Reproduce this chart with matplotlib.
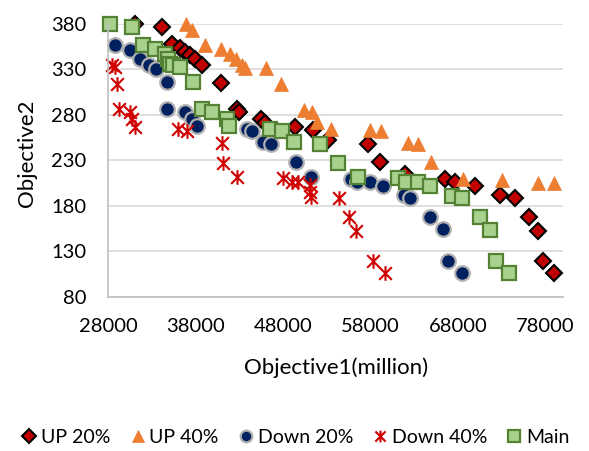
import numpy as np
import matplotlib
matplotlib.use("Agg")
import matplotlib.pyplot as plt
from matplotlib.path import Path

plt.rcParams['font.family'] = ['Lato', 'DejaVu Sans']

# ── data ─────────────────────────────────────────────────────────────────────
up20_x = [31030, 34080, 35220, 36170, 36740, 37320, 37890, 38650, 40820, 42650,
          42950, 45430, 45890, 49320, 51410, 53120, 57690, 59030, 61890, 66460,
          67600, 69890, 72740, 74460, 76090, 77120, 77690, 79030]
up20_y = [380, 377, 358, 354, 349, 346, 342, 335, 315, 287,
          283, 276, 271, 267, 263, 252, 248, 228, 215, 210,
          206, 202, 192, 188.5, 168, 153, 119, 106]

up40_x = [36860, 37510, 39030, 40820, 41890, 42570, 43220, 43600, 46000, 47720,
          50340, 51340, 51800, 53490, 57970, 59220, 62260, 63410, 64940, 68550,
          73050, 77120, 78920]
up40_y = [380, 373, 357, 352, 347, 342, 335, 332, 332, 314,
          285.5, 283, 272, 265, 263.5, 262, 249, 248, 228, 210,
          209, 205.6, 205.6]

down20_x = [28740, 30460, 31600, 32630, 33430, 34650, 34650, 36740, 37540, 38110,
            43800, 44400, 45690, 46650, 49510, 51220, 55800, 56400, 57890, 59410,
            61770, 62460, 64740, 66260, 66840, 68480]
down20_y = [357, 351, 342, 335, 331, 316, 287, 283, 276, 268,
            265, 262, 250, 248, 228, 212, 210, 206, 206.7, 202.5,
            192, 188.5, 168, 155, 119, 106]

down40_x = [28370, 28800, 28970, 29200, 30460, 30650, 31030, 36000, 36970, 40940,
            41050, 42650, 47980, 48940, 49690, 51030, 51030, 51220, 54340, 55520,
            56370, 58260, 59600]
down40_y = [335, 333, 314.6, 287, 283, 275.6, 267, 265, 262, 249,
            227, 211.5, 210.4, 206.7, 206.7, 203, 195.7, 189.6, 189.3, 168,
            153, 119, 106]

main_x = [28170, 30650, 31980, 33310, 34460, 34830, 35030, 35410, 36170, 37690,
          38690, 39790, 41510, 41770, 46460, 47800, 49240, 52170, 54260, 56550,
          61120, 62000, 63410, 64740, 67340, 68480, 70460, 71600, 72290, 73810]
main_y = [380, 377, 357, 353, 347, 342, 336, 335, 333, 316,
          287, 283, 276, 268, 265, 262, 250, 248.5, 227.6, 211.5,
          210.4, 206.7, 206.7, 202, 191, 188.5, 168, 153.6, 119, 106]

x_ticks = [28000, 38000, 48000, 58000, 68000, 78000]
y_ticks = [80, 130, 180, 230, 280, 330, 380]

# X with a vertical bar, like a spreadsheet "star" marker
star = Path([(-1, -1), (1, 1), (-1, 1), (1, -1), (0, -1.15), (0, 1.15)],
            [Path.MOVETO, Path.LINETO, Path.MOVETO, Path.LINETO, Path.MOVETO, Path.LINETO])

fig = plt.figure(figsize=(5.89, 4.51), dpi=100)
ax = fig.add_axes([0.1842, 0.3415, 0.7716, 0.6053])

common = dict(ls='none', clip_on=False)
ax.plot(up20_x, up20_y, marker='D', ms=8.3, mfc='#c00000', mec='black',
        mew=1.5, label='UP 20%', **common)
ax.plot(up40_x, up40_y, marker='^', ms=10.5, mfc='#ed7d31', mec='#ed7d31',
        mew=0.5, label='UP 40%', **common)
ax.plot(down20_x, down20_y, marker='o', ms=10.5, mfc='#002060', mec='#b0b0b0',
        mew=1.6, label='Down 20%', **common)
ax.plot(down40_x, down40_y, marker=star, ms=10.5, mfc='none', mec='#d00000',
        mew=1.5, label='Down 40%', **common)
ax.plot(main_x, main_y, marker='s', ms=10.5, mfc='#a9d18e', mec='#548235',
        mew=1.6, label='Main', **common)

ax.set_xlim(28000, 80000)
ax.set_ylim(80, 380)
ax.set_xticks(x_ticks)
ax.set_yticks(y_ticks)
ax.tick_params(length=0, labelsize=14.5, labelcolor='black')
ax.tick_params(axis='x', pad=15)
ax.tick_params(axis='y', pad=16)

ax.grid(axis='y', color='#d9d9d9', lw=1.2)
ax.set_axisbelow(True)
for s in ['top', 'right']:
    ax.spines[s].set_visible(False)
for s in ['left', 'bottom']:
    ax.spines[s].set_color('#bfbfbf')
    ax.spines[s].set_linewidth(1.2)

ax.set_ylabel('Objective2', fontsize=16, va='center')
ax.yaxis.set_label_coords(-0.18, 0.526)
ax.set_xlabel('Objective1(million)', fontsize=16, va='center')
ax.xaxis.set_label_coords(0.5, -0.26)

fig.legend(loc='center', bbox_to_anchor=(0.5, 0.031), ncol=5, frameon=False,
           fontsize=14, handletextpad=0.1, columnspacing=0.9, handlelength=1.0,
           markerscale=0.8, borderaxespad=0)

fig.savefig('out.png', dpi=100)
